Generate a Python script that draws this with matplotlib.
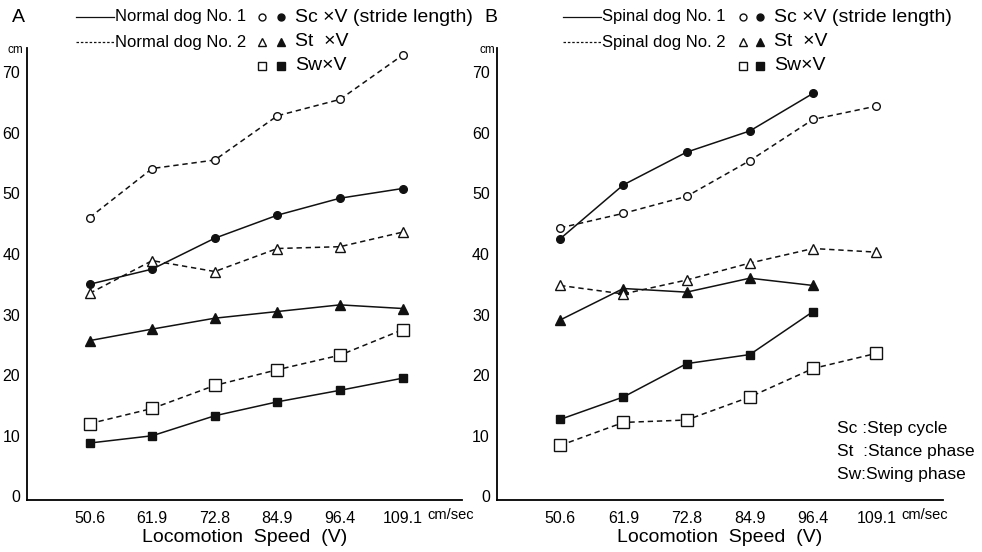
import matplotlib
matplotlib.use("Agg")
import matplotlib.pyplot as plt
from matplotlib.lines import Line2D

plt.rcParams['font.family'] = ['Liberation Sans', 'DejaVu Sans']

speeds = ["50.6", "61.9", "72.8", "84.9", "96.4", "109.1"]
y_ticks = [0, 10, 20, 30, 40, 50, 60, 70]

# normal dogs (A)
sc_n1 = [35.0, 37.5, 42.6, 46.4, 49.2, 50.8]
sc_n2 = [46.0, 54.1, 55.5, 62.8, 65.5, 72.8]
st_n1 = [25.7, 27.6, 29.4, 30.5, 31.6, 31.0]
st_n2 = [33.5, 38.9, 37.1, 40.9, 41.2, 43.6]
sw_n1 = [8.8, 10.0, 13.3, 15.6, 17.5, 19.5]
sw_n2 = [12.0, 14.5, 18.3, 20.9, 23.3, 27.5]

# spinal dogs (B), dog No. 1 only up to 96.4 cm/sec
sc_s1 = [42.5, 51.4, 56.8, 60.3, 66.5]
sc_s2 = [44.3, 46.7, 49.5, 55.4, 62.2, 64.4]
st_s1 = [29.1, 34.3, 33.7, 36.0, 34.8]
st_s2 = [34.8, 33.4, 35.7, 38.5, 40.9, 40.3]
sw_s1 = [12.7, 16.4, 21.9, 23.4, 30.5]
sw_s2 = [8.4, 12.2, 12.6, 16.4, 21.1, 23.6]

K = '#111111'
DASH = (0, (3.5, 2.5))


def draw_series(ax, vals, marker, filled, dashed, ms):
    x = list(range(len(vals)))
    ax.plot(x, vals, color=K, lw=1.1,
            linestyle=DASH if dashed else '-',
            marker=marker, markersize=ms, markeredgewidth=1.0,
            markeredgecolor=K, markerfacecolor=K if filled else 'white',
            clip_on=False, zorder=3)


def setup_axis(ax, xmax):
    ax.set_xlim(-1, xmax)
    ax.set_ylim(-0.6, 74)
    for s in ['top', 'right']:
        ax.spines[s].set_visible(False)
    ax.spines['left'].set_linewidth(1.3)
    ax.spines['bottom'].set_linewidth(1.3)
    ax.set_xticks(range(len(speeds)))
    ax.set_xticklabels(speeds)
    ax.set_yticks(y_ticks)
    ax.tick_params(length=0, labelsize=11.5)
    ax.tick_params(axis='x', pad=8)
    ax.tick_params(axis='y', pad=5)
    ax.set_xlabel("Locomotion  Speed  (V)", fontsize=14, labelpad=2)
    ax.text(5.4, -0.034, "cm/sec", transform=ax.get_xaxis_transform(),
            fontsize=10.5, ha='left', va='center')


fig = plt.figure(figsize=(9.82, 5.52), dpi=100)
axA = fig.add_axes([0.0275, 0.0942, 0.443, 0.819])
axB = fig.add_axes([0.506, 0.0942, 0.454, 0.819])
setup_axis(axA, 5.95)
setup_axis(axB, 6.05)

draw_series(axA, sc_n1, 'o', True, False, 5.5)
draw_series(axA, sc_n2, 'o', False, True, 5.5)
draw_series(axA, st_n1, '^', True, False, 6.5)
draw_series(axA, st_n2, '^', False, True, 6.5)
draw_series(axA, sw_n1, 's', True, False, 6)
draw_series(axA, sw_n2, 's', False, True, 8)

draw_series(axB, sc_s1, 'o', True, False, 5.5)
draw_series(axB, sc_s2, 'o', False, True, 5.5)
draw_series(axB, st_s1, '^', True, False, 6.5)
draw_series(axB, st_s2, '^', False, True, 6.5)
draw_series(axB, sw_s1, 's', True, False, 6)
draw_series(axB, sw_s2, 's', False, True, 8)

W, H = 982.0, 552.0


def fx(px):
    return px / W


def fy(py):
    return 1 - py / H


def legend_block(x0, mx, gap, panel, px_panel, dog, px_cm):
    fig.text(fx(px_panel), fy(18), panel, fontsize=14, ha='left', va='center')
    fig.text(fx(px_cm), fy(50), "cm", fontsize=8.5, ha='center', va='center')
    rows = [("solid", dog + " No. 1", 17), ("dash", dog + " No. 2", 42)]
    for style, label, py in rows:
        fig.add_artist(Line2D([fx(x0), fx(x0 + 38)], [fy(py), fy(py)],
                              transform=fig.transFigure, color=K, lw=0.9,
                              linestyle='-' if style == "solid" else (0, (2, 1.5))))
        fig.text(fx(x0 + 39), fy(py), label, fontsize=12, ha='left', va='center')
    keys = [('o', 5, "Sc \u00d7V (stride length)", 17),
            ('^', 6, "St  \u00d7V", 42),
            ('s', 6, "Sw\u00d7V", 66)]
    for m, ms, label, py in keys:
        for dx, face in [(0, 'white'), (gap, K)]:
            fig.add_artist(Line2D([fx(mx + dx)], [fy(py)], transform=fig.transFigure,
                                  marker=m, markersize=ms, markeredgewidth=1.0,
                                  markeredgecolor=K, markerfacecolor=face, linestyle='none'))
        fig.text(fx(mx + gap + 14), fy(py), label, fontsize=14, ha='left', va='center')


legend_block(76, 262, 19, "A", 12, "Normal dog", 15)
legend_block(563, 743, 17, "B", 484, "Spinal dog", 487)

notes = ["Sc :Step cycle", "St  :Stance phase", "Sw:Swing phase"]
for i, t in enumerate(notes):
    fig.text(fx(837), fy(428 + 23.5 * i), t, fontsize=12.5, ha='left', va='center')

fig.savefig("out.png", dpi=100)
